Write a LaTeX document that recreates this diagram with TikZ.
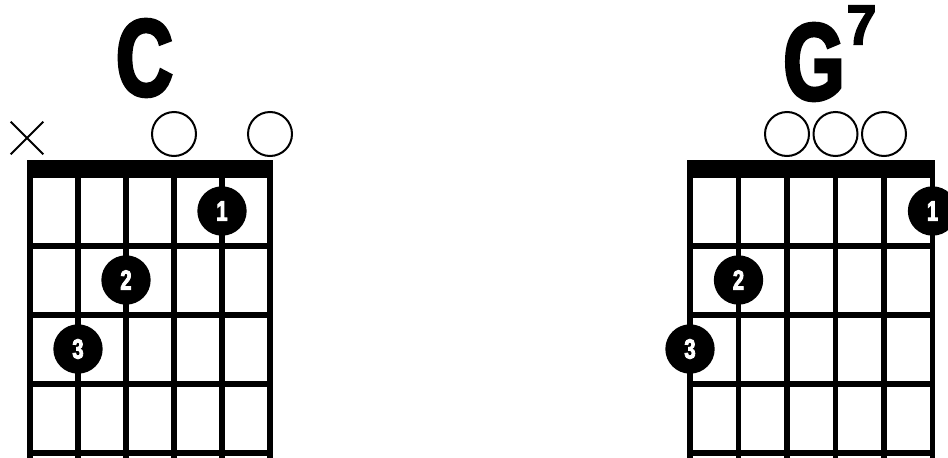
\documentclass[tikz,border=0pt]{standalone}
\usepackage{fontspec}
\newfontfamily\chordfont[FakeStretch=0.72,FakeBold=3]{Liberation Sans}
\newfontfamily\supfont[FakeStretch=0.95,FakeBold=3]{Liberation Sans}
\usetikzlibrary{shapes.misc}

\begin{document}
\begin{tikzpicture}[x=0.75pt,y=-0.75pt,
  gtrstring/.style={line width=4pt},
  fretline/.style={line width=3.8pt},
  fingerdot/.style={circle,fill=black,text=white,inner sep=0pt,minimum size=37pt,
    font=\chordfont\bfseries\fontsize{21}{21}\selectfont},
  openmark/.style={circle,draw=black,line width=1.5pt,inner sep=0pt,minimum size=33pt},
  mutemark/.style={cross out,draw=black,line width=1.5pt,inner sep=0pt,minimum size=23pt},
  chordname/.style={inner sep=0pt,font=\chordfont\bfseries\fontsize{82}{82}\selectfont}]
\useasboundingbox (0,0) rectangle (948,457);
\clip (0,0) rectangle (948,457);

% C chord
\node[chordname] (cname) at (144.5,58) {C};
\fill (27,160) rectangle (273,178);
\draw[gtrstring] (30,175)--(30,470) (78,175)--(78,470) (126,175)--(126,470)
  (174,175)--(174,470) (222,175)--(222,470) (270,175)--(270,470);
\draw[fretline] (30,246)--(270,246) (30,315)--(270,315) (30,384)--(270,384) (30,453)--(270,453);
\node[mutemark] (cmute) at (27,138) {};
\node[openmark] (copen3) at (174,134) {};
\node[openmark] (copen1) at (270,134) {};
\node[fingerdot] (cdot1) at (222,211) {1};
\node[fingerdot] (cdot2) at (126,280) {2};
\node[fingerdot] (cdot3) at (78,349) {3};

% G7 chord
\node[chordname] (gname) at (814,62) {G};
\node[chordname,font=\supfont\bfseries\fontsize{42}{42}\selectfont] (gsup) at (861.5,25) {7};
\fill (687,160) rectangle (935,178);
\draw[gtrstring] (690,175)--(690,470) (738.5,175)--(738.5,470) (787,175)--(787,470)
  (835.5,175)--(835.5,470) (884,175)--(884,470) (932.5,175)--(932.5,470);
\draw[fretline] (690,246)--(932.5,246) (690,315)--(932.5,315) (690,384)--(932.5,384) (690,453)--(932.5,453);
\node[openmark] (gopen4) at (787,134) {};
\node[openmark] (gopen3) at (835.5,134) {};
\node[openmark] (gopen2) at (884,134) {};
\node[fingerdot] (gdot1) at (932.5,211) {1};
\node[fingerdot] (gdot2) at (738.5,280) {2};
\node[fingerdot] (gdot3) at (690,349) {3};
\end{tikzpicture}
\end{document}
